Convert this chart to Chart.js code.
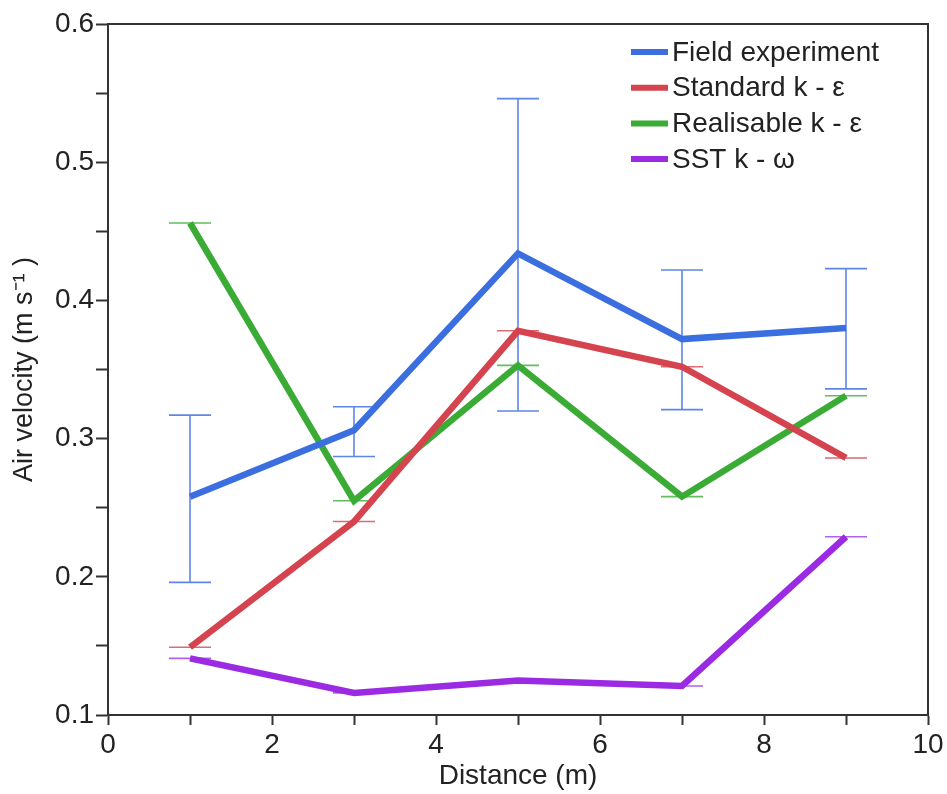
<!DOCTYPE html>
<html>
<head>
<meta charset="utf-8">
<script src="https://cdn.jsdelivr.net/npm/chart.js@4.4.0/dist/chart.umd.min.js"></script>
<style>
  html, body { margin: 0; padding: 0; background: #fff; }
  #wrap { width: 947px; height: 794px; }
</style>
</head>
<body>
<div id="wrap"><canvas id="velocity-chart" width="947" height="794"></canvas></div>
<script>
// values
const distance = [1, 3, 5, 7, 9];
const fieldExp = [0.258, 0.306, 0.434, 0.372, 0.380];
const fieldLow = [0.196, 0.287, 0.320, 0.321, 0.336];
const fieldHigh = [0.317, 0.323, 0.546, 0.422, 0.423];
const standardKE = [0.149, 0.240, 0.378, 0.352, 0.286];
const realisableKE = [0.456, 0.255, 0.353, 0.258, 0.331];
const sstKW = [0.141, 0.116, 0.125, 0.121, 0.229];
const seriesNames = ['Field experiment', 'Standard k - ε', 'Realisable k - ε', 'SST k - ω'];
const xTicks = [0, 2, 4, 6, 8, 10];
const yTicks = [0.1, 0.2, 0.3, 0.4, 0.5, 0.6];

const colors = ['#3b6fe0', '#d5434f', '#3aab35', '#9a2be3'];
const barColors = ['#5f86e6', '#de6a74', '#62bd5e', '#b061ec'];
const FONT = '"Liberation Sans", Arial, sans-serif';

const toPoints = (ys) => ys.map((y, i) => ({ x: distance[i], y: y }));

// error bars + frame + legend
const extras = {
  id: 'extras',
  beforeDatasetsDraw(chart) {
    const { ctx, scales: { x, y } } = chart;
    const bars = [
      [fieldLow, fieldHigh, barColors[0]],
      [standardKE, standardKE, barColors[1]],
      [realisableKE, realisableKE, barColors[2]],
      [sstKW, sstKW, barColors[3]],
    ];
    ctx.save();
    ctx.lineWidth = 1.6;
    bars.forEach(([lo, hi, col]) => {
      ctx.strokeStyle = col;
      distance.forEach((d, i) => {
        const px = x.getPixelForValue(d);
        const pLo = y.getPixelForValue(lo[i]);
        const pHi = y.getPixelForValue(hi[i]);
        ctx.beginPath();
        ctx.moveTo(px, pLo); ctx.lineTo(px, pHi);
        ctx.moveTo(px - 21, pLo); ctx.lineTo(px + 21, pLo);
        ctx.moveTo(px - 21, pHi); ctx.lineTo(px + 21, pHi);
        ctx.stroke();
      });
    });
    ctx.restore();
  },
  afterDraw(chart) {
    const { ctx, chartArea: a } = chart;
    ctx.save();
    ctx.strokeStyle = '#333';
    ctx.lineWidth = 2;
    ctx.beginPath();
    ctx.moveTo(a.left, a.top); ctx.lineTo(a.right, a.top); ctx.lineTo(a.right, a.bottom);
    ctx.stroke();

    // legend
    const lx = a.left + 523, ly = a.top + 28;
    ctx.font = '28px ' + FONT;
    ctx.textBaseline = 'middle';
    ctx.fillStyle = '#222';
    seriesNames.forEach((name, i) => {
      const yy = ly + i * 35.7;
      ctx.strokeStyle = colors[i];
      ctx.lineWidth = 6;
      ctx.beginPath();
      ctx.moveTo(lx, yy); ctx.lineTo(lx + 37, yy);
      ctx.stroke();
      ctx.fillText(name, lx + 41, yy + 1);
    });
    ctx.restore();
  }
};

const mkSet = (label, data, i) => ({
  label: label,
  data: toPoints(data),
  borderColor: colors[i],
  backgroundColor: colors[i],
  borderWidth: 6.5,
  pointRadius: 0,
  tension: 0,
  borderJoinStyle: 'miter',
});

new Chart(document.getElementById('velocity-chart'), {
  type: 'line',
  data: {
    datasets: [
      mkSet(seriesNames[0], fieldExp, 0),
      mkSet(seriesNames[1], standardKE, 1),
      mkSet(seriesNames[2], realisableKE, 2),
      mkSet(seriesNames[3], sstKW, 3),
    ],
  },
  options: {
    responsive: false,
    animation: false,
    layout: { padding: { top: 24, right: 19, left: 0, bottom: 0 } },
    plugins: { legend: { display: false }, tooltip: { enabled: false } },
    scales: {
      x: {
        type: 'linear',
        min: 0, max: 10,
        afterFit: (s) => { s.height = 79; },
        afterBuildTicks: (s) => {
          s.ticks = [];
          for (let v = xTicks[0]; v <= xTicks[xTicks.length - 1]; v += 1) s.ticks.push({ value: v });
        },
        border: { color: '#333', width: 2 },
        grid: { drawOnChartArea: false, drawTicks: true, tickLength: 10, tickColor: '#333', tickWidth: 2 },
        ticks: {
          padding: 3,
          color: '#222',
          font: { family: FONT, size: 28 },
          callback: (v) => (xTicks.includes(v) ? String(v) : ''),
        },
        title: {
          display: true, text: 'Distance (m)', color: '#222',
          font: { family: FONT, size: 28 }, padding: { top: 0, bottom: 1 },
        },
      },
      y: {
        type: 'linear',
        min: 0.1, max: 0.6,
        afterFit: (s) => { s.width = 108; },
        afterBuildTicks: (s) => {
          s.ticks = [];
          for (let k = 0; k <= 10; k++) s.ticks.push({ value: Math.round((0.1 + k * 0.05) * 100) / 100 });
        },
        border: { color: '#333', width: 2 },
        grid: { drawOnChartArea: false, drawTicks: true, tickLength: 12, tickColor: '#333', tickWidth: 2 },
        ticks: {
          padding: 2,
          color: '#222',
          font: { family: FONT, size: 28 },
          callback: (v) => {
            const hit = yTicks.find((t) => Math.abs(t - v) < 1e-6);
            return hit !== undefined ? hit.toFixed(1) : '';
          },
        },
        title: {
          display: true, text: 'Air velocity (m s⁻¹ )', color: '#222',
          font: { family: FONT, size: 27 }, padding: { top: 8, bottom: 0 },
        },
      },
    },
  },
  plugins: [extras],
});
</script>
</body>
</html>
